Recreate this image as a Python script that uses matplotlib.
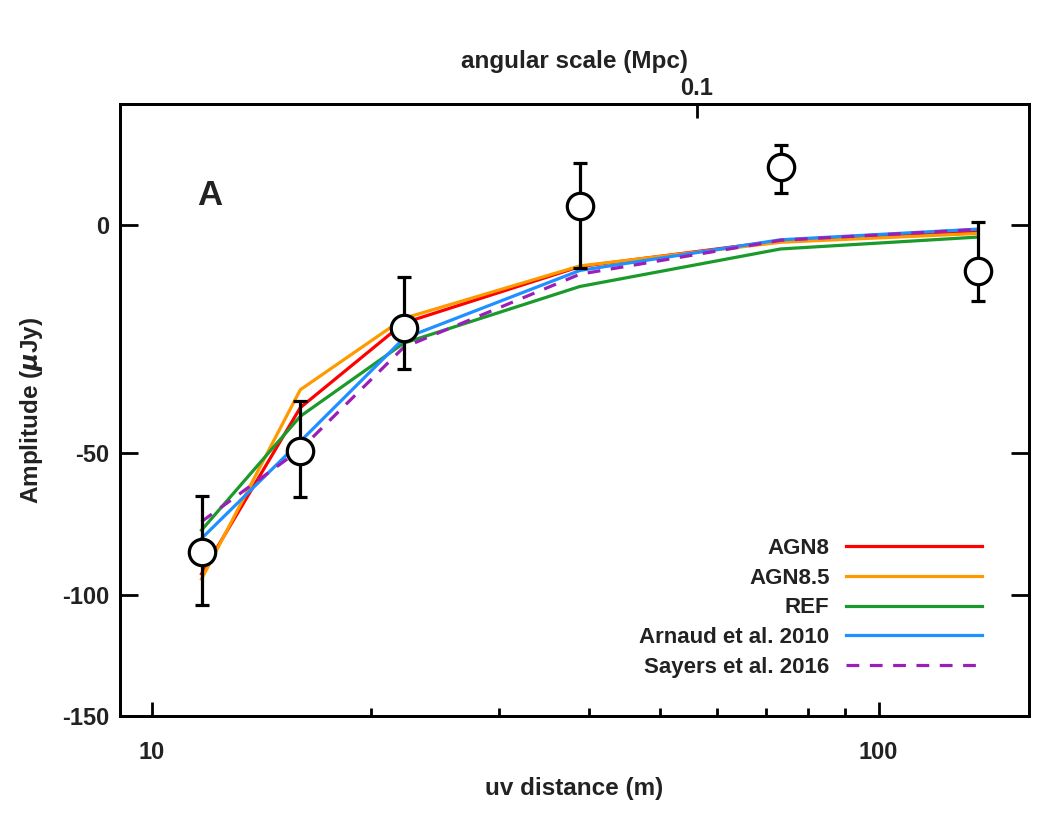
import numpy as np
import matplotlib
matplotlib.use("Agg")
import matplotlib.pyplot as plt

plt.rcParams['font.family'] = ['Liberation Sans', 'DejaVu Sans']
plt.rcParams['font.weight'] = 'bold'
plt.rcParams['axes.labelweight'] = 'bold'
plt.rcParams['mathtext.default'] = 'it'
plt.rcParams['axes.unicode_minus'] = False

# data points (uv distance in m, amplitude in uJy)
uv = [11.7, 16.0, 22.2, 38.8, 73.3, 137.0]
amp = [-84.0, -49.5, -16.0, 1.4, 7.1, -5.1]
err_lo = [20.0, 15.0, 10.0, 6.0, 4.0, 5.3]
err_hi = [20.0, 15.0, 10.0, 6.4, 4.2, 5.2]

# models at the same uv distances
agn8 = [-92.0, -36.5, -15.0, -4.4, -1.1, -0.3]
agn85 = [-94.0, -31.5, -14.0, -4.3, -1.25, -0.45]
ref = [-76.0, -39.0, -19.6, -7.7, -2.0, -0.75]
arnaud = [-79.0, -46.5, -18.5, -5.0, -1.0, -0.16]
sayers = [-73.0, -49.0, -20.6, -5.6, -1.05, -0.18]

model_names = ['AGN8', 'AGN8.5', 'REF', 'Arnaud et al. 2010', 'Sayers et al. 2016']
model_colors = ['#ff0000', '#ff9900', '#1a9a2a', '#1e90ff', '#9a1fb8']

yticks = [0, -50, -100, -150]
ang_ticks = [0.1]      # Mpc
uv_per_mpc = 5.62      # uv (m) = uv_per_mpc / angular scale (Mpc)

pw = 0.7
def fwd(y):
    y = np.asarray(y, dtype=float)
    return np.sign(y) * np.abs(y) ** pw
def inv(y):
    y = np.asarray(y, dtype=float)
    return np.sign(y) * np.abs(y) ** (1 / pw)

txt = '#222222'
fig = plt.figure(figsize=(10.63, 8.25), dpi=100)
ax = fig.add_axes([0.113, 0.132, 0.855, 0.742])

models = [agn8, agn85, ref, arnaud, sayers]
for m, name, c in zip(models, model_names, model_colors):
    ls = (0, (4, 3.3)) if name.startswith('Sayers') else '-'
    ax.plot(uv, m, color=c, lw=2.3, ls=ls, label=name, zorder=2)

ax.errorbar(uv, amp, yerr=[err_lo, err_hi], fmt='none', ecolor='black',
            elinewidth=2.3, capsize=5, capthick=2.3, zorder=3)
ax.plot(uv, amp, 'o', ms=19, mfc='white', mec='black', mew=2.3, zorder=4)

ax.set_xscale('log')
ax.set_yscale('function', functions=(fwd, inv))
ax.set_xlim(9.04, 161)
ax.set_ylim(-150, 20.3)

ax.set_yticks(yticks)
ax.set_yticklabels([str(t) for t in yticks])
ax.set_xticks([10, 100])
ax.set_xticklabels(['10', '100'])
ax.tick_params(axis='y', which='major', direction='in', length=13, width=2,
               left=True, right=True, labelsize=17, labelcolor=txt, pad=8)
ax.tick_params(axis='x', which='major', direction='in', length=10, width=2,
               top=False, labelsize=17, labelcolor=txt, pad=18)
ax.tick_params(axis='x', which='minor', direction='in', length=6, width=2, top=False)
ax.yaxis.set_minor_locator(matplotlib.ticker.NullLocator())
for s in ax.spines.values():
    s.set_linewidth(2)

ax.set_xlabel('uv distance (m)', fontsize=17.5, color=txt, labelpad=9)
ax.set_ylabel(r'Amplitude ($\mu$Jy)', fontsize=17.5, color=txt, labelpad=12)

ax.text(0.099, 0.85, 'A', transform=ax.transAxes, fontsize=25,
        color=txt, ha='center', va='center')

leg = ax.legend(loc='lower right', bbox_to_anchor=(0.97, 0.03), frameon=False,
                markerfirst=False, handlelength=6.1, handletextpad=0.75,
                labelspacing=0.39, fontsize=16)
for t in leg.get_texts():
    t.set_color(txt)

# top axis: angular scale
top = ax.twiny()
top.set_xscale('log')
top.set_xlim(ax.get_xlim())
top.set_xticks([uv_per_mpc / a for a in ang_ticks])
top.set_xticklabels([str(a) for a in ang_ticks])
top.xaxis.set_minor_locator(matplotlib.ticker.NullLocator())
top.tick_params(axis='x', which='major', direction='in', length=10, width=2,
                labelsize=17, labelcolor=txt, pad=3)
top.set_xlabel('angular scale (Mpc)', fontsize=17.5, color=txt, labelpad=6)
for s in top.spines.values():
    s.set_linewidth(2)

fig.savefig('out.png', dpi=100)
